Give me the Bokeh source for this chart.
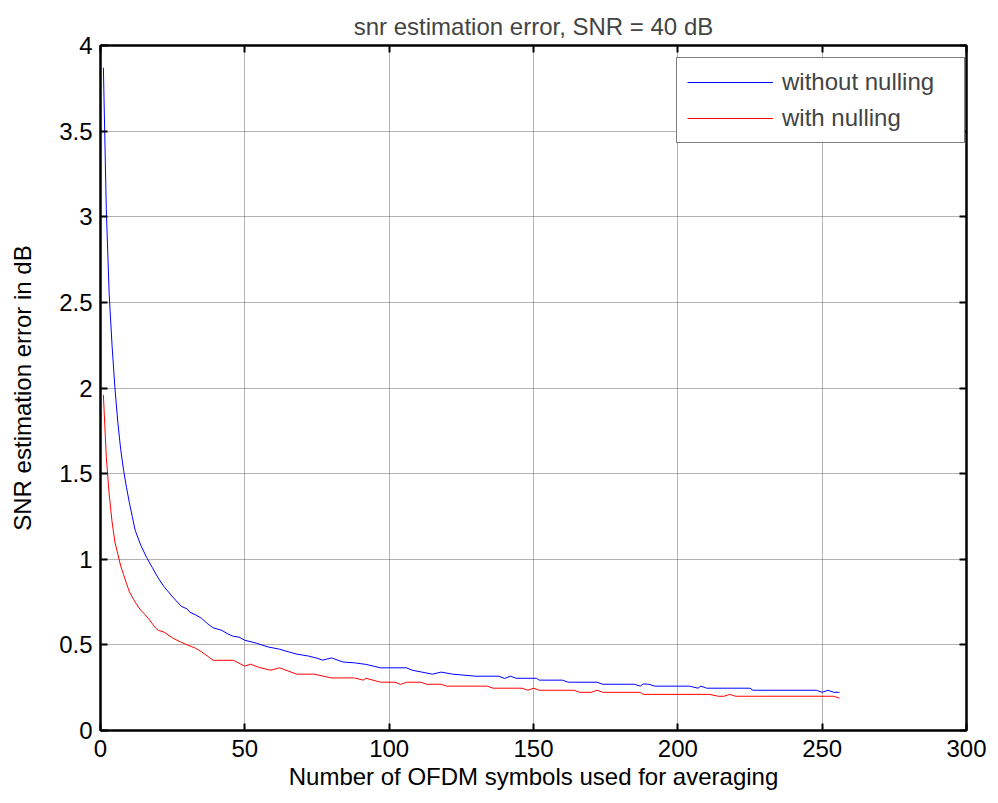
from bokeh.plotting import figure
from bokeh.models import Range1d, LinearAxis, FixedTicker, Legend, LegendItem
from bokeh.embed import file_html
from bokeh.resources import INLINE

# ---- data ----
n_blue = [1, 2, 3, 4, 5, 6, 7, 8, 9, 10, 11, 12, 14, 16, 18, 20, 22, 25, 28, 30, 31, 33, 35, 37, 39,
          42, 44, 46, 48, 50, 54, 58, 62, 65, 68, 72, 75, 77, 80, 84, 88, 92, 97, 106, 108, 115,
          118, 122, 130, 138, 140, 142, 144, 151, 152, 160, 162, 172, 174, 185, 187, 188, 190,
          192, 204, 207, 208, 210, 225, 226, 248, 250, 252, 254, 256]
err_blue = [3.87, 3.05, 2.55, 2.25, 2.00, 1.80, 1.64, 1.52, 1.42, 1.33, 1.25, 1.17, 1.08, 1.01,
            0.95, 0.89, 0.84, 0.78, 0.725, 0.71, 0.69, 0.675, 0.655, 0.625, 0.60, 0.585, 0.565,
            0.55, 0.545, 0.527, 0.51, 0.488, 0.475, 0.46, 0.446, 0.435, 0.422, 0.411, 0.424,
            0.40, 0.395, 0.386, 0.366, 0.366, 0.352, 0.329, 0.341, 0.329, 0.317, 0.317, 0.304,
            0.317, 0.305, 0.305, 0.294, 0.294, 0.282, 0.282, 0.270, 0.270, 0.259, 0.272, 0.270,
            0.259, 0.259, 0.247, 0.259, 0.247, 0.247, 0.235, 0.235, 0.223, 0.235, 0.223, 0.223]

n_red = [1, 2, 3, 4, 5, 6, 7, 8, 9, 10, 11, 12, 14, 15, 17, 19, 20, 22, 25, 28, 30, 33, 35, 37,
         39, 46, 50, 52, 55, 59, 62, 68, 74, 80, 88, 91, 92, 97, 102, 104, 106, 111, 113, 118,
         120, 134, 136, 146, 148, 150, 152, 164, 166, 170, 172, 174, 187, 188, 211, 214, 216,
         218, 220, 254, 256]
err_red = [1.96, 1.60, 1.38, 1.22, 1.10, 1.03, 0.96, 0.91, 0.86, 0.81, 0.78, 0.75, 0.70, 0.685,
           0.645, 0.60, 0.585, 0.575, 0.54, 0.515, 0.50, 0.48, 0.459, 0.435, 0.41, 0.41, 0.376,
           0.387, 0.368, 0.352, 0.366, 0.329, 0.329, 0.307, 0.307, 0.294, 0.305, 0.282, 0.282,
           0.269, 0.282, 0.282, 0.270, 0.270, 0.259, 0.259, 0.247, 0.247, 0.235, 0.247, 0.235,
           0.235, 0.223, 0.223, 0.235, 0.223, 0.223, 0.211, 0.211, 0.200, 0.200, 0.211, 0.200,
           0.200, 0.189]

x_ticks = [0, 50, 100, 150, 200, 250, 300]
y_ticks = [0, 0.5, 1, 1.5, 2, 2.5, 3, 3.5, 4]
y_tick_labels = ["0", "0.5", "1", "1.5", "2", "2.5", "3", "3.5", "4"]

title_text = "snr estimation error, SNR = 40 dB"
x_label = "Number of OFDM symbols used for averaging"
y_label = "SNR estimation error in dB"
series_labels = ["without nulling", "with nulling"]
series_colors = ["#0000ff", "#ff0000"]

FONT = "Liberation Sans"
FS = "24px"

p = figure(width=990, height=800, x_range=Range1d(0, 300), y_range=Range1d(0, 4),
           output_backend="svg", toolbar_location=None,
           min_border_left=100, min_border_right=24, min_border_top=45, min_border_bottom=70,
           title=title_text)

p.title.text_font = FONT
p.title.text_font_size = FS
p.title.text_font_style = "normal"
p.title.align = "center"
p.title.standoff = 11

p.outline_line_color = "black"
p.outline_line_width = 2

for ax in (p.xaxis[0], p.yaxis[0]):
    ax.major_label_text_font = FONT
    ax.major_label_text_font_size = FS
    ax.major_label_text_color = "black"
    ax.axis_label_text_font = FONT
    ax.axis_label_text_font_size = FS
    ax.axis_label_text_font_style = "normal"
    ax.axis_label_text_color = "black"
    ax.axis_line_width = 2
    ax.axis_line_color = "black"
    ax.major_tick_in = 7
    ax.major_tick_out = 0
    ax.major_tick_line_width = 2
    ax.major_tick_line_color = "black"
    ax.minor_tick_line_color = None

p.xaxis[0].ticker = FixedTicker(ticks=x_ticks)
p.yaxis[0].ticker = FixedTicker(ticks=y_ticks)
p.yaxis[0].major_label_overrides = {t: l for t, l in zip(y_ticks, y_tick_labels)}
p.xaxis[0].axis_label = x_label
p.yaxis[0].axis_label = y_label
p.xaxis[0].major_label_standoff = 9
p.yaxis[0].major_label_standoff = 8
p.xaxis[0].axis_label_standoff = 3
p.yaxis[0].axis_label_standoff = 20

# box ticks on top and right (labels not drawn)
ax_r = LinearAxis(ticker=FixedTicker(ticks=y_ticks),
                  major_label_text_color=None, major_label_text_font_size="1px",
                  major_label_standoff=0, major_tick_in=7, major_tick_out=0,
                  major_tick_line_width=2, minor_tick_line_color=None, axis_line_width=2)
ax_t = LinearAxis(ticker=FixedTicker(ticks=x_ticks),
                  major_label_text_color=None, major_label_text_font_size="1px",
                  major_label_standoff=0, major_tick_in=7, major_tick_out=0,
                  major_tick_line_width=2, minor_tick_line_color=None, axis_line_width=2)
p.add_layout(ax_r, "right")
p.add_layout(ax_t, "above")

p.grid.ticker = None
p.xgrid.ticker = FixedTicker(ticks=x_ticks)
p.ygrid.ticker = FixedTicker(ticks=y_ticks)
p.grid.grid_line_color = "#666666"
p.grid.grid_line_dash = "1 1"
p.grid.grid_line_width = 1

rb = p.line(n_blue, err_blue, line_color=series_colors[0], line_width=1)
rr = p.line(n_red, err_red, line_color=series_colors[1], line_width=1)

legend = Legend(items=[LegendItem(label=series_labels[0], renderers=[rb]),
                       LegendItem(label=series_labels[1], renderers=[rr])],
                location=(576, 587), margin=0, padding=10, spacing=8,
                glyph_width=86, glyph_height=28, label_standoff=9, label_width=172,
                label_text_font=FONT, label_text_font_size=FS,
                border_line_color="black", border_line_width=1,
                background_fill_color="white", background_fill_alpha=1)
p.add_layout(legend)

open("out.html", "w").write(file_html(p, INLINE))
